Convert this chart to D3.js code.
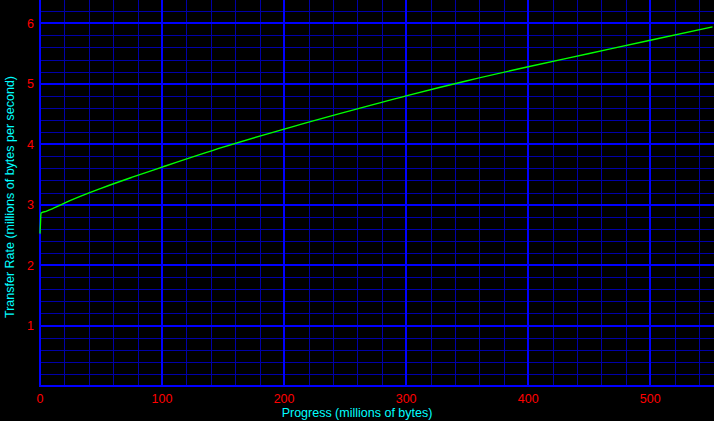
<!DOCTYPE html>
<html>
<head>
<meta charset="utf-8">
<script src="https://cdn.jsdelivr.net/npm/d3@7"></script>
<style>
  html, body { margin: 0; padding: 0; background: #000; }
  svg { display: block; }
</style>
</head>
<body>
<svg id="chart" width="714" height="421"></svg>
<script>
// ---- data ----
const progress = [0, 0.4, 0.8, 5, 10, 25, 50, 75, 100, 150, 200, 250, 300, 350, 400, 450, 500, 551];
const rate     = [2.52, 2.70, 2.86, 2.89, 2.93, 3.07, 3.27, 3.45, 3.62, 3.95, 4.25, 4.53, 4.80, 5.05, 5.28, 5.50, 5.72, 5.94];
const xMajorTicks = [0, 100, 200, 300, 400, 500];
const yMajorTicks = [1, 2, 3, 4, 5, 6];
const xMinorStep = 20;
const yMinorStep = 0.2;
const xTitle = "Progress (millions of bytes)";
const yTitle = "Transfer Rate (millions of bytes per second)";

// ---- layout ----
const W = 714, H = 421;
const mLeft = 40, mBottom = 386, mRight = 713, mTop = 0;
const xMax = 551.4, yMax = 6.385;

const x = d3.scaleLinear().domain([0, xMax]).range([mLeft, mRight]);
const y = d3.scaleLinear().domain([0, yMax]).range([mBottom, mTop]);

const svg = d3.select("#chart");
svg.append("rect").attr("width", W).attr("height", H).attr("fill", "#000");

const grid = svg.append("g").attr("shape-rendering", "crispEdges");

const xMinor = d3.range(xMinorStep, xMax, xMinorStep).filter(v => Math.abs(v % 100) > 1e-6);
const yMinor = d3.range(yMinorStep, yMax, yMinorStep).map(v => +v.toFixed(1)).filter(v => Math.abs(v - Math.round(v)) > 1e-6);

const minorColor = "#0000a8", majorColor = "#0000ff";

grid.selectAll(".xm").data(xMinor).enter().append("line")
  .attr("x1", d => Math.round(x(d)) + 0.5).attr("x2", d => Math.round(x(d)) + 0.5)
  .attr("y1", mTop).attr("y2", mBottom)
  .attr("stroke", minorColor).attr("stroke-width", 1);
grid.selectAll(".ym").data(yMinor).enter().append("line")
  .attr("y1", d => Math.round(y(d)) + 0.5).attr("y2", d => Math.round(y(d)) + 0.5)
  .attr("x1", mLeft).attr("x2", W)
  .attr("stroke", minorColor).attr("stroke-width", 1);

grid.selectAll(".xM").data(xMajorTicks.filter(d => d > 0)).enter().append("line")
  .attr("x1", d => Math.round(x(d))).attr("x2", d => Math.round(x(d)))
  .attr("y1", mTop).attr("y2", mBottom)
  .attr("stroke", majorColor).attr("stroke-width", 2);
grid.selectAll(".yM").data(yMajorTicks).enter().append("line")
  .attr("y1", d => Math.round(y(d))).attr("y2", d => Math.round(y(d)))
  .attr("x1", mLeft).attr("x2", W)
  .attr("stroke", majorColor).attr("stroke-width", 2);

// axes lines
grid.append("line").attr("x1", x(0)).attr("x2", x(0)).attr("y1", mTop).attr("y2", mBottom + 1)
  .attr("stroke", majorColor).attr("stroke-width", 2);
grid.append("line").attr("x1", mLeft - 1).attr("x2", W).attr("y1", y(0)).attr("y2", y(0))
  .attr("stroke", majorColor).attr("stroke-width", 2);

// curve
const line = d3.line().x((d, i) => x(progress[i])).y((d, i) => y(rate[i])).curve(d3.curveMonotoneX);
svg.append("path").datum(rate).attr("d", line)
  .attr("fill", "none").attr("stroke", "#00ff00").attr("stroke-width", 1.4);

// tick labels
const font = "'Liberation Sans', Arial, sans-serif";
svg.selectAll(".xl").data(xMajorTicks).enter().append("text")
  .attr("x", d => x(d)).attr("y", 403)
  .attr("text-anchor", "middle").attr("fill", "#ff0000")
  .attr("font-family", font).attr("font-size", 12.5)
  .text(d => d);
svg.selectAll(".yl").data(yMajorTicks).enter().append("text")
  .attr("x", 34).attr("y", d => y(d) + 4.5)
  .attr("text-anchor", "end").attr("fill", "#ff0000")
  .attr("font-family", font).attr("font-size", 12.5)
  .text(d => d);

// titles
svg.append("text").attr("x", W / 2).attr("y", 417)
  .attr("text-anchor", "middle").attr("fill", "#00ffff")
  .attr("font-family", font).attr("font-size", 12.5)
  .text(xTitle);
svg.append("text").attr("transform", `translate(14,197) rotate(-90)`)
  .attr("text-anchor", "middle").attr("fill", "#00ffff")
  .attr("font-family", font).attr("font-size", 12.5)
  .text(yTitle);
</script>
</body>
</html>
